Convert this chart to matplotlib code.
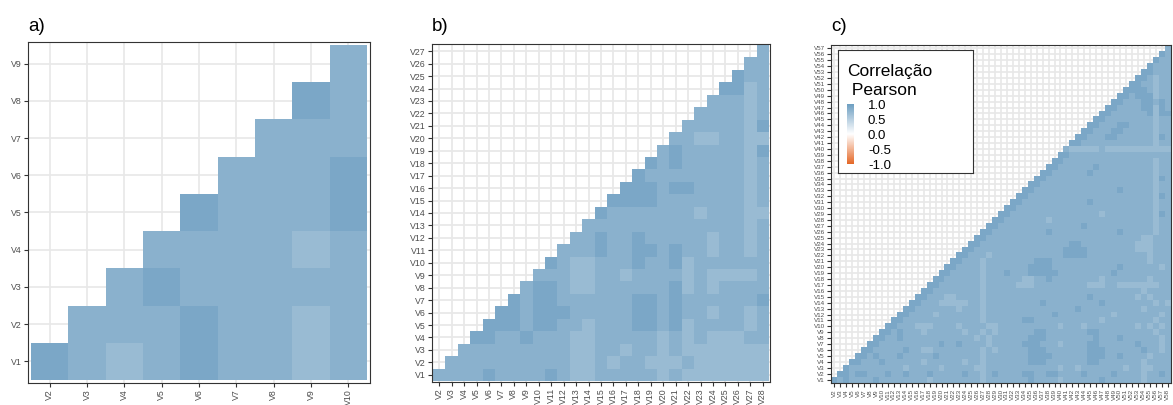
import numpy as np
import matplotlib
matplotlib.use("Agg")
import matplotlib.pyplot as plt
from matplotlib.colors import LinearSegmentedColormap, Normalize
from matplotlib.cm import ScalarMappable

plt.rcParams['font.family'] = ['Liberation Sans', 'DejaVu Sans']

# ---------------- data (correlation in tenths, one string per row, upper triangle) ----------------
# panel a: rows V1..V9, columns V2..V10
a_rows = ["987898878", "88898878", "8988888", "888878", "98889",
          "8889", "888", "98", "8"]

# panel b: rows V1..V27, columns V2..V28
b_rows = [
    "8888988889" "8778888878" "7777777",
    "8888888888" "7787887778" "777777",
    "888888888" "77887887" "87" "777777",
    "9988988877" "8888878787" "7788",
    "9998998878" "8899897888" "878",
    "9989998888" "8998988788" "78",
    "9899888888" "9989888888" "9",
    "8998778888" "8897878888",
    "8887788788" "887877778",
    "9877888988" "97888888",
    "8889889989" "8878878",
    "8898898888" "878878",
    "8888888888" "88878",
    "9888888878" "8877",
    "9999888888" "878",
    "9998998888" "78",
    "98888888878",
    "9898888878",
    "898888879",
    "88778877",
    "8888879",
    "888878",
    "88878",
    "9978",
    "988",
    "88",
    "8",
]

# panel c: rows V1..V57, columns V2..V58
c_rows = [
    "9898888988" "8888887888" "8888878888" "8889888878" "8888898888" "8878888",
    "998998889" "8898889888" "8898878988" "8899889988" "8898888988" "8878898",
    "98888888" "8878888878" "8888778888" "8888888878" "8788888887" "8877888",
    "9988898" "8888878888" "8878878888" "8889998888" "8889988888" "8878888",
    "998988" "8988888988" "8888878888" "8889999888" "8889998898" "8887888",
    "99888" "8898877888" "8888878788" "8889998888" "8889998888" "8898878",
    "9988" "8888888898" "8988887888" "8899988878" "8889988888" "8988878",
    "998" "8988888888" "8888787888" "8889998888" "8888988898" "8888878",
    "99" "8988878888" "8878878788" "8888998888" "8889988888" "8888788",
    "9" "9888777888" "8788887788" "8888888878" "8878888888" "8787878",
    "9988888888" "8888878888" "8899888888" "8888878888" "8888788",
    "998888788" "8888878888" "8888888988" "8888888788" "8888878",
    "99888888" "8788878888" "8888888888" "8988888888" "8878888",
    "9988877" "7778878888" "8888898888" "8888898888" "8888787",
    "998887" "7888878888" "8888888888" "8889888888" "8787888",
    "99888" "8888878888" "8888888888" "8888888888" "8878888",
    "9988" "8888878888" "8777888888" "8887778877" "7777788",
    "998" "8888878888" "8877889888" "8888878888" "8887888",
    "99" "8888878889" "8889999988" "8888888988" "8888888",
    "9" "9888878888" "8889999888" "8888888898" "8888878",
    "9988878888" "8888999888" "8888888888" "8887888",
    "998887888" "8888888889" "9998888888" "8887888",
    "99888888" "8888888889" "9998888888" "8777888",
    "9988888" "8888888888" "9988888888" "8777888",
    "998888" "8888888888" "8888888888" "8877888",
    "99888" "8888889888" "8888888898" "8888788",
    "9988" "8888888888" "8898888888" "8888788",
    "998" "8888887888" "8888888888" "8888788",
    "99" "8888888888" "8888878888" "8888798",
    "9" "9888888888" "8888888888" "8888788",
    "9988888888" "8889888888" "8888788",
    "998888888" "8888888888" "8888798",
    "99888888" "8888888898" "8888788",
    "9988888" "8888888888" "8888788",
    "998888" "8888888888" "8888798",
    "99888" "8889888888" "8888788",
    "9988" "8888988888" "8888788",
    "998" "8888888888" "8888788",
    "99" "8888888888" "8888888",
    "8" "7777787777" "7777777",
    "9988888888" "8888788",
    "998889988" "8888798",
    "99888998" "8888788",
    "9988899" "8888788",
    "998888" "8888788",
    "99888" "8889799",
    "9988" "8899798",
    "998" "8899898",
    "99" "8999788",
    "9" "9998788",
    "9988788",
    "998788",
    "99888",
    "9888",
    "988",
    "98",
    "8",
]

a_n, b_n, c_n = 9, 27, 57
a_xlabels = ["V%d" % i for i in range(2, a_n + 2)]
a_ylabels = ["V%d" % i for i in range(1, a_n + 1)]
b_xlabels = ["V%d" % i for i in range(2, b_n + 2)]
b_ylabels = ["V%d" % i for i in range(1, b_n + 1)]
c_xlabels = ["V%d" % i for i in range(2, c_n + 2)]
c_ylabels = ["V%d" % i for i in range(1, c_n + 1)]

legend_ticks = [-1.0, -0.5, 0.0, 0.5, 1.0]
legend_ticklabels = ["-1.0", "-0.5", "0.0", "0.5", "1.0"]
panel_titles = ["a)", "b)", "c)"]


def to_matrix(rows, n):
    m = np.full((n, n), np.nan)
    for r, s in enumerate(rows):
        for k, ch in enumerate(s):
            if r + k < n:
                m[r, r + k] = int(ch) / 10.0
    return m


cmap = LinearSegmentedColormap.from_list("corr", ["#E46726", "#FFFFFF", "#6D9EC1"])
norm = Normalize(vmin=-1, vmax=1)

W, H = 1173, 405
fig = plt.figure(figsize=(W / 100, H / 100), dpi=100)


def px_axes(left, top, right, bottom):
    return fig.add_axes([left / W, 1 - bottom / H, (right - left) / W, (bottom - top) / H])


def panel(ax, rows, n, xl, yl, fs, glw, tlen):
    m = to_matrix(rows, n)
    edges = np.arange(n + 1) - 0.5
    ax.pcolormesh(edges, edges, np.ma.masked_invalid(m), cmap=cmap, norm=norm,
                  antialiased=False, linewidth=0, zorder=1)
    ax.set_xlim(-0.58, n - 1 + 0.58)
    ax.set_ylim(-0.58, n - 1 + 0.58)
    ax.set_xticks(range(n))
    ax.set_xticklabels(xl, rotation=90, fontsize=fs, color="#4d4d4d")
    ax.set_yticks(range(n))
    ax.set_yticklabels(yl, fontsize=fs, color="#4d4d4d")
    ax.tick_params(length=tlen, width=0.8, color="#333333", pad=1.2)
    ax.grid(True, color="#e8e8e8", lw=glw)
    ax.set_axisbelow(True)
    ax.set_facecolor("white")
    for sp in ax.spines.values():
        sp.set_color("#333333")
        sp.set_linewidth(0.8)


ax_a = px_axes(28, 42, 370, 383)
panel(ax_a, a_rows, a_n, a_xlabels, a_ylabels, 6.3, 1.2, 3.0)
ax_b = px_axes(432, 44, 770, 382)
panel(ax_b, b_rows, b_n, b_xlabels, b_ylabels, 6.3, 1.3, 3.2)
ax_c = px_axes(831, 45, 1171, 383)
panel(ax_c, c_rows, c_n, c_xlabels, c_ylabels, 4.5, 1.25, 3.2)

# panel titles, aligned with each panel's left edge
for t, ax in zip(panel_titles, [ax_a, ax_b, ax_c]):
    x0 = ax.get_position().x0
    fig.text(x0, 1 - 31 / H, t, fontsize=13.5, va="baseline", ha="left", color="black")

# legend box inside panel c
lax = px_axes(838, 50, 973, 173)
lax.set_zorder(5)
lax.set_facecolor("white")
lax.set_xticks([])
lax.set_yticks([])
for sp in lax.spines.values():
    sp.set_color("#333333")
    sp.set_linewidth(0.8)
lax.text(847 / W, 1 - 76 / H, "Correlação", transform=fig.transFigure,
         fontsize=12.5, va="baseline", ha="left")
lax.text(847 / W, 1 - 95 / H, " Pearson", transform=fig.transFigure,
         fontsize=12.5, va="baseline", ha="left")

cax = px_axes(847, 104, 854, 164)
cax.set_zorder(6)
cb = fig.colorbar(ScalarMappable(norm=norm, cmap=cmap), cax=cax, ticks=legend_ticks)
cb.outline.set_visible(False)
cb.set_ticklabels(legend_ticklabels)
cax.tick_params(length=0, labelsize=9.5, pad=10)

fig.savefig("out.png", dpi=100)
